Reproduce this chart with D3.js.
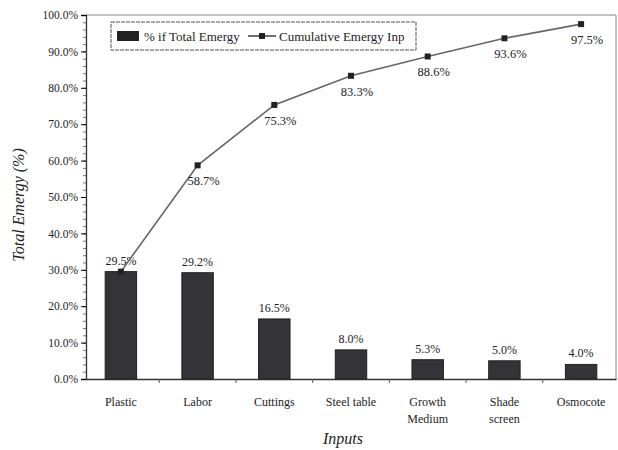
<!DOCTYPE html>
<html>
<head>
<meta charset="utf-8">
<script src="https://cdn.jsdelivr.net/npm/d3@7"></script>
<style>
  body { margin: 0; background: #fff; }
  #chart { width: 618px; height: 450px; }
  text { font-family: "Liberation Serif", "DejaVu Serif", serif; fill: #222; }
</style>
</head>
<body>
<div id="chart"></div>
<script>
var inputs = ["Plastic", "Labor", "Cuttings", "Steel table", "Growth Medium", "Shade screen", "Osmocote"];
var inputLines = [["Plastic"], ["Labor"], ["Cuttings"], ["Steel table"], ["Growth", "Medium"], ["Shade", "screen"], ["Osmocote"]];
var sharePct = [29.5, 29.2, 16.5, 8.0, 5.3, 5.0, 4.0];
var cumulativePct = [29.5, 58.7, 75.3, 83.3, 88.6, 93.6, 97.5];
var yTicks = [0, 10, 20, 30, 40, 50, 60, 70, 80, 90, 100];

var width = 618, height = 450;
var margin = {top: 15, left: 86, right: 2, bottom: 71};

var svg = d3.select("#chart")
    .append("svg")
    .attr("width", width)
    .attr("height", height);

var xScale = d3.scaleBand()
    .domain(inputs)
    .range([margin.left, width - margin.right])
    .paddingInner(0.59)
    .paddingOuter(0.25);

var yScale = d3.scaleLinear()
    .domain([0, 100])
    .range([height - margin.bottom, margin.top]);

// plot frame (top and right)
svg.append("path")
    .attr("d", "M" + margin.left + "," + margin.top + "H" + (width - margin.right) + "V" + yScale(0))
    .attr("fill", "none")
    .attr("stroke", "#888")
    .attr("stroke-width", 1);

// minor ticks on y
svg.append("g")
    .attr("transform", `translate(${margin.left},0)`)
    .call(d3.axisLeft(yScale).tickValues(d3.range(0, 101, 2)).tickSize(3).tickFormat(""))
    .call(function(g) { g.select(".domain").remove(); g.selectAll("line").attr("stroke", "#777"); });

var yAxis = svg.append("g")
    .attr("transform", `translate(${margin.left},0)`)
    .call(d3.axisLeft(yScale).tickValues(yTicks).tickSize(5).tickPadding(3)
        .tickFormat(function(d) { return d.toFixed(1) + "%"; }));
yAxis.select(".domain").attr("stroke", "#333").attr("stroke-width", 1.3);
yAxis.selectAll("text").style("font-size", "11.5px").style("font-family", "Liberation Serif").attr("fill", "#333");

var xAxis = svg.append("g")
    .attr("transform", `translate(0,${yScale(0)})`)
    .call(d3.axisBottom(xScale).tickSize(0).tickFormat(""));
xAxis.select(".domain").attr("stroke", "#333").attr("stroke-width", 1.3);

// tick marks between categories
var step = xScale.step();
svg.selectAll(".xtick")
    .data(inputs.slice(0, -1))
    .enter()
    .append("line")
    .attr("x1", function(d) { return xScale(d) + xScale.bandwidth() / 2 + step / 2; })
    .attr("x2", function(d) { return xScale(d) + xScale.bandwidth() / 2 + step / 2; })
    .attr("y1", yScale(0))
    .attr("y2", yScale(0) + 4)
    .attr("stroke", "#555");

// category labels
svg.selectAll(".xlabel")
    .data(inputs)
    .enter()
    .append("text")
    .attr("text-anchor", "middle")
    .style("font-size", "12px")
    .attr("transform", function(d) { return `translate(${xScale(d) + xScale.bandwidth() / 2},${yScale(0) + 27})`; })
    .each(function(d, i) {
        var t = d3.select(this);
        inputLines[i].forEach(function(line, j) {
            t.append("tspan").attr("x", 0).attr("dy", j === 0 ? 0 : 17).text(line);
        });
    });

// bars
svg.selectAll(".bar")
    .data(sharePct)
    .enter()
    .append("rect")
    .attr("x", function(d, i) { return xScale(inputs[i]); })
    .attr("y", function(d) { return yScale(d); })
    .attr("width", xScale.bandwidth())
    .attr("height", function(d) { return yScale(0) - yScale(d); })
    .attr("fill", "#333338")
    .attr("stroke", "#222")
    .attr("stroke-width", 1);

svg.selectAll(".barlabel")
    .data(sharePct)
    .enter()
    .append("text")
    .attr("x", function(d, i) { return xScale(inputs[i]) + xScale.bandwidth() / 2; })
    .attr("y", function(d) { return yScale(d) - 7; })
    .attr("text-anchor", "middle")
    .style("font-size", "12px")
    .attr("fill", "#333")
    .text(function(d) { return d.toFixed(1) + "%"; });

// cumulative line
var line = d3.line()
    .x(function(d, i) { return xScale(inputs[i]) + xScale.bandwidth() / 2; })
    .y(function(d) { return yScale(d); });

svg.append("path")
    .datum(cumulativePct)
    .attr("d", line)
    .attr("fill", "none")
    .attr("stroke", "#666")
    .attr("stroke-width", 1.6);

svg.selectAll(".marker")
    .data(cumulativePct)
    .enter()
    .append("rect")
    .attr("x", function(d, i) { return xScale(inputs[i]) + xScale.bandwidth() / 2 - 3; })
    .attr("y", function(d) { return yScale(d) - 3; })
    .attr("width", 6)
    .attr("height", 6)
    .attr("fill", "#222");

svg.selectAll(".cumlabel")
    .data(cumulativePct.slice(1))
    .enter()
    .append("text")
    .attr("x", function(d, i) { return xScale(inputs[i + 1]) + xScale.bandwidth() / 2 + 6; })
    .attr("y", function(d) { return yScale(d) + 20; })
    .attr("text-anchor", "middle")
    .style("font-size", "12.5px")
    .attr("fill", "#333")
    .text(function(d) { return d.toFixed(1) + "%"; });

// legend
var legend = svg.append("g").attr("transform", "translate(111,22)");
legend.append("rect")
    .attr("width", 305)
    .attr("height", 28)
    .attr("fill", "#fff")
    .attr("stroke", "#555")
    .attr("stroke-dasharray", "4,1");
legend.append("rect")
    .attr("x", 6).attr("y", 9).attr("width", 22).attr("height", 10)
    .attr("fill", "#222");
legend.append("text")
    .attr("x", 33).attr("y", 18.5)
    .style("font-size", "13px")
    .text("% if Total Emergy");
legend.append("line")
    .attr("x1", 137).attr("x2", 165).attr("y1", 14).attr("y2", 14)
    .attr("stroke", "#333").attr("stroke-width", 1.4);
legend.append("rect")
    .attr("x", 148).attr("y", 11).attr("width", 6).attr("height", 6)
    .attr("fill", "#222");
legend.append("text")
    .attr("x", 168).attr("y", 18.5)
    .style("font-size", "13px")
    .text("Cumulative Emergy Inp");

// axis titles
svg.append("text")
    .attr("x", 343)
    .attr("y", 444)
    .attr("text-anchor", "middle")
    .style("font-size", "16px")
    .style("font-style", "italic")
    .text("Inputs");

svg.append("text")
    .attr("transform", "rotate(-90)")
    .attr("x", -205)
    .attr("y", 24)
    .attr("text-anchor", "middle")
    .style("font-size", "16px")
    .style("font-style", "italic")
    .text("Total Emergy (%)");
</script>
</body>
</html>
